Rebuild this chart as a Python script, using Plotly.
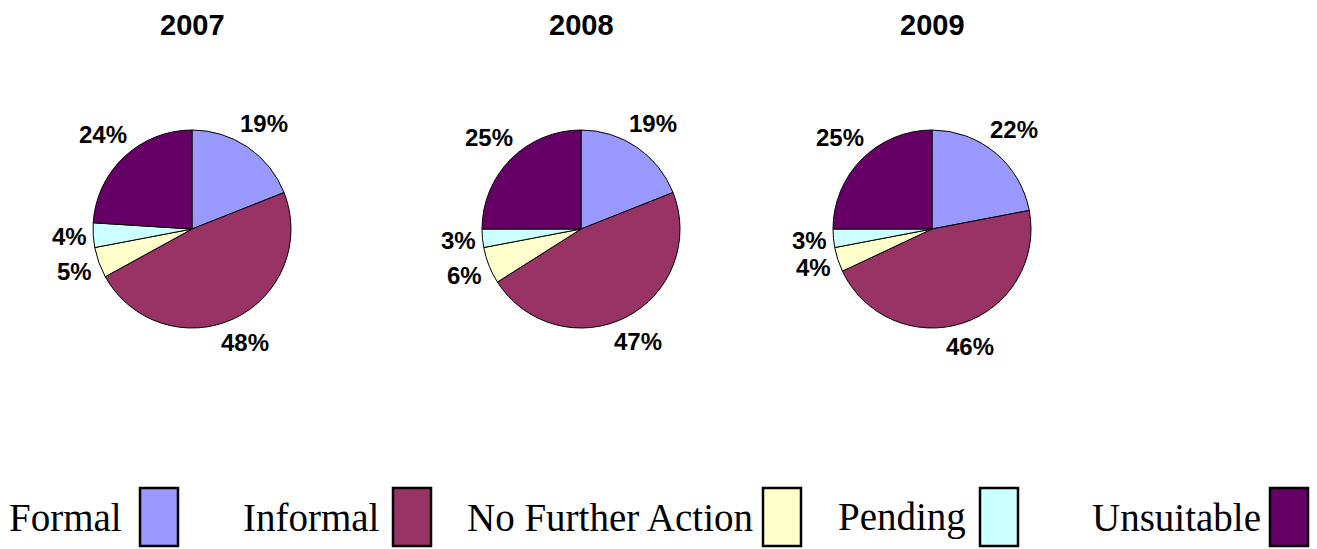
import math
import plotly.graph_objects as go

W, H = 1317, 549

categories = ["Formal", "Informal", "No Further Action", "Pending", "Unsuitable"]
years = ["2007", "2008", "2009"]
values_2007 = [19, 48, 5, 4, 24]
values_2008 = [19, 47, 6, 3, 25]
values_2009 = [22, 46, 4, 3, 25]
colors = ["#9999FF", "#993366", "#FFFFCC", "#CCFFFF", "#660066"]

series = [values_2007, values_2008, values_2009]

# layout (pixels)
centers_x = [192, 581, 932]
center_y = 229
radius = 99
title_y = 25
lab_size = 24
lab_gap = 6

fig = go.Figure()
for yr, vals, cx in zip(years, series, centers_x):
    fig.add_trace(go.Pie(
        labels=categories, values=vals, sort=False, direction="clockwise",
        rotation=0,
        marker=dict(colors=colors, line=dict(color="black", width=1)),
        textinfo="none",
        domain=dict(x=[(cx - radius) / W, (cx + radius) / W],
                    y=[1 - (center_y + radius) / H, 1 - (center_y - radius) / H]),
        showlegend=False, hoverinfo="label+percent", name=yr,
    ))
    fig.add_annotation(x=cx / W, y=1 - title_y / H, xref="paper", yref="paper",
                       text="<b>%s</b>" % yr, showarrow=False,
                       font=dict(family="Liberation Sans, Arial", size=29, color="black"),
                       xanchor="center", yanchor="middle")
    # percentage labels outside each slice, placed along the slice bisector
    total = float(sum(vals))
    cum = 0.0
    for v in vals:
        frac = v / total
        mid = (cum + frac / 2) * 2 * math.pi
        cum += frac
        txt = "%d%%" % round(frac * 100)
        w = lab_size * (0.556 * (len(txt) - 1) + 0.889)
        h = lab_size * 0.95
        s, c = math.sin(mid), math.cos(mid)
        d = radius + lab_gap + abs(s) * w / 2 + abs(c) * h / 2
        px, py = cx + d * s, center_y - d * c
        fig.add_annotation(x=px / W, y=1 - py / H, xref="paper", yref="paper",
                           text="<b>%s</b>" % txt, showarrow=False,
                           xanchor="center", yanchor="middle",
                           font=dict(family="Liberation Sans, Arial", size=lab_size, color="black"))

# custom legend: text then box
text_left = [7, 241, 465, 836, 1090]
box_left = [140, 393, 763, 980, 1270]
box_w, box_top, box_bot = 38, 488, 546
leg_y = 517
for name, col, tx, bx in zip(categories, colors, text_left, box_left):
    fig.add_annotation(x=tx / W, y=1 - leg_y / H, xref="paper", yref="paper",
                       text=name, showarrow=False, xanchor="left", yanchor="middle",
                       font=dict(family="Liberation Serif, Times New Roman", size=39, color="black"))
    fig.add_shape(type="rect", xref="paper", yref="paper",
                  x0=bx / W, x1=(bx + box_w) / W, y0=1 - box_bot / H, y1=1 - box_top / H,
                  fillcolor=col, line=dict(color="black", width=2.5))

fig.update_layout(width=W, height=H, margin=dict(l=0, r=0, t=0, b=0),
                  paper_bgcolor="white", plot_bgcolor="white")
fig.write_html("out.html", config={"displayModeBar": False},
               post_script="document.body.style.margin='0';document.body.style.overflow='hidden';")
